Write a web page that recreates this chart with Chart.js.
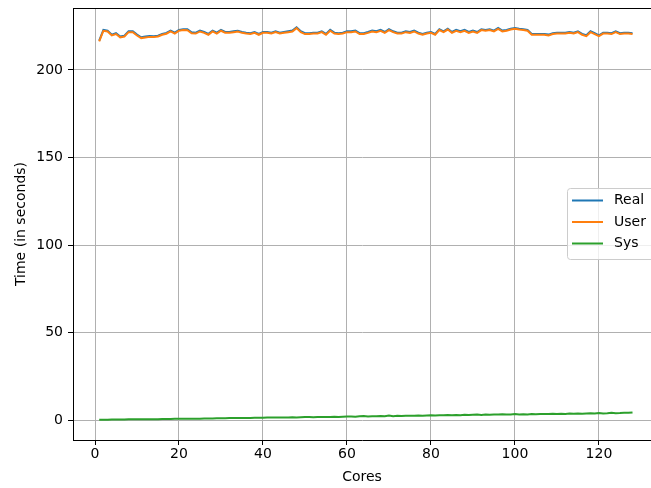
<!DOCTYPE html>
<html>
<head>
<meta charset="utf-8">
<script src="https://cdn.jsdelivr.net/npm/chart.js@4/dist/chart.umd.min.js"></script>
<style>
  html, body { margin: 0; padding: 0; background: #fff; }
  #wrap { width: 651px; height: 488px; }
</style>
</head>
<body>
<div id="wrap"><canvas id="myChart" width="651" height="488"></canvas></div>
<script>
// cores 1..128
var cores = [];
for (var i = 1; i <= 128; i++) cores.push(i);

var realTimes = [
  216.8, 222.9, 222.5, 220.2, 221.0, 219.1, 219.6, 222.1, 222.1, 220.2,
  218.7, 219.1, 219.4, 219.3, 219.6, 220.6, 221.2, 222.5, 221.3, 222.9,
  223.3, 223.2, 221.5, 221.3, 222.5, 221.7, 220.6, 222.5, 221.3, 222.9,
  221.7, 221.7, 222.1, 222.4, 221.7, 221.3, 221.0, 221.7, 220.6, 221.7,
  221.7, 221.3, 222.1, 221.3, 221.7, 222.1, 222.5, 224.4, 222.1, 221.0,
  221.0, 221.3, 221.3, 222.1, 220.6, 222.9, 221.3, 221.0, 221.3, 222.1,
  222.1, 222.5, 221.0, 221.0, 221.7, 222.5, 222.1, 222.9, 221.7, 223.3,
  222.1, 221.3, 221.3, 222.1, 221.7, 222.5, 221.3, 220.6, 221.3, 221.7,
  220.6, 223.3, 222.1, 223.6, 221.7, 222.9, 222.1, 222.9, 221.7, 222.5,
  221.7, 223.3, 222.9, 223.3, 222.5, 224.0, 222.5, 222.9, 223.6, 224.0,
  223.6, 223.3, 222.9, 220.6, 220.6, 220.6, 220.6, 220.2, 221.0, 221.3,
  221.3, 221.3, 221.7, 221.3, 222.1, 220.6, 219.8, 222.1, 221.0, 219.8,
  221.3, 221.3, 221.0, 222.1, 221.0, 221.3, 221.3, 221.0
];

var userTimes = [
  216.3, 222.4, 222.0, 219.7, 220.5, 218.6, 219.1, 221.6, 221.6, 219.7,
  218.2, 218.6, 218.9, 218.8, 219.1, 220.1, 220.7, 222.0, 220.8, 222.4,
  222.8, 222.7, 221.0, 220.8, 222.0, 221.2, 220.1, 222.0, 220.8, 222.4,
  221.2, 221.2, 221.6, 221.9, 221.2, 220.8, 220.5, 221.2, 220.1, 221.2,
  221.2, 220.8, 221.6, 220.8, 221.2, 221.6, 222.0, 223.9, 221.6, 220.5,
  220.5, 220.8, 220.8, 221.6, 220.1, 222.4, 220.8, 220.5, 220.8, 221.6,
  221.6, 222.0, 220.5, 220.5, 221.2, 222.0, 221.6, 222.4, 221.2, 222.8,
  221.6, 220.8, 220.8, 221.6, 221.2, 222.0, 220.8, 220.1, 220.8, 221.2,
  220.1, 222.8, 221.6, 223.1, 221.2, 222.4, 221.6, 222.4, 221.2, 222.0,
  221.2, 222.8, 222.4, 222.8, 222.0, 223.5, 222.0, 222.4, 223.1, 223.5,
  223.1, 222.8, 222.4, 220.1, 220.1, 220.1, 220.1, 219.7, 220.5, 220.8,
  220.8, 220.8, 221.2, 220.8, 221.6, 220.1, 219.3, 221.6, 220.5, 219.3,
  220.8, 220.8, 220.5, 221.6, 220.5, 220.8, 220.8, 220.5
];

var sysTimes = [
  0.2, 0.2, 0.2, 0.3, 0.3, 0.3, 0.3, 0.4, 0.4, 0.4,
  0.4, 0.5, 0.5, 0.5, 0.5, 0.6, 0.6, 0.6, 0.7, 0.7,
  0.7, 0.7, 0.8, 0.8, 0.8, 0.9, 0.9, 0.9, 1.0, 1.0,
  1.0, 1.1, 1.1, 1.1, 1.2, 1.2, 1.2, 1.3, 1.3, 1.3,
  1.5, 1.4, 1.4, 1.4, 1.5, 1.5, 1.6, 1.5, 1.6, 1.7,
  1.7, 1.6, 1.7, 1.8, 1.7, 1.8, 1.9, 1.8, 1.9, 2.0,
  2.0, 1.9, 2.1, 2.3, 2.0, 2.2, 2.1, 2.3, 2.2, 2.6,
  2.2, 2.4, 2.3, 2.5, 2.4, 2.4, 2.6, 2.5, 2.6, 2.7,
  2.6, 2.8, 2.7, 2.9, 2.7, 2.9, 2.8, 3.0, 2.9, 3.0,
  3.1, 2.9, 3.1, 3.0, 3.2, 3.1, 3.3, 3.1, 3.2, 3.4,
  3.2, 3.3, 3.2, 3.4, 3.3, 3.5, 3.4, 3.5, 3.6, 3.4,
  3.6, 3.5, 3.7, 3.6, 3.8, 3.6, 3.8, 3.9, 3.7, 4.0,
  3.8, 3.9, 4.1, 3.9, 4.0, 4.2, 4.1, 4.3
];

var xTicks = [0, 20, 40, 60, 80, 100, 120];
var yTicks = [0, 50, 100, 150, 200];

function points(ys) {
  return cores.map(function (c, i) { return {x: c, y: ys[i]}; });
}

var font = {family: 'DejaVu Sans', size: 14};

// matplotlib style legend box + top spine
var mplLegend = {
  id: 'mplLegend',
  afterDraw: function (chart) {
    var c = chart.ctx, a = chart.chartArea;
    c.save();
    c.strokeStyle = '#000';
    c.lineWidth = 1;
    c.beginPath();
    c.moveTo(a.left, a.top + 0.5);
    c.lineTo(a.right, a.top + 0.5);
    c.stroke();

    var x0 = 567.5, y0 = 188.5, w = 100, h = 71, r = 3;
    c.fillStyle = 'rgba(255,255,255,0.8)';
    c.strokeStyle = '#cccccc';
    c.beginPath();
    c.roundRect(x0, y0, w, h, r);
    c.fill();
    c.stroke();
    c.font = '14px "DejaVu Sans"';
    c.textBaseline = 'middle';
    c.fillStyle = '#000';
    chart.data.datasets.forEach(function (ds, i) {
      var y = 200.5 + i * 21.5;
      c.strokeStyle = ds.borderColor;
      c.lineWidth = 2;
      c.beginPath();
      c.moveTo(572, y);
      c.lineTo(603, y);
      c.stroke();
      c.fillText(ds.label, 614, y);
    });
    c.restore();
  }
};

var ctx = document.getElementById('myChart').getContext('2d');
var myChart = new Chart(ctx, {
  type: 'line',
  data: {
    datasets: [{
      data: points(realTimes),
      label: 'Real',
      borderColor: '#1f77b4',
      borderWidth: 2,
      pointRadius: 0,
      order: 3
    }, {
      data: points(userTimes),
      label: 'User',
      borderColor: '#ff7f0e',
      borderWidth: 2,
      pointRadius: 0,
      order: 2
    }, {
      data: points(sysTimes),
      label: 'Sys',
      borderColor: '#2ca02c',
      borderWidth: 2,
      pointRadius: 0,
      order: 1
    }]
  },
  options: {
    responsive: false,
    animation: false,
    devicePixelRatio: 1,
    layout: {padding: {top: 8, right: 0, left: 0, bottom: 0}},
    plugins: {
      legend: {display: false},
      tooltip: {enabled: false}
    },
    scales: {
      x: {
        type: 'linear',
        min: -5.24,
        max: 132.4,
        afterFit: function (s) { s.height = 48; s.paddingLeft = 0; s.paddingRight = 0; },
        afterBuildTicks: function (s) { s.ticks = xTicks.map(function (v) { return {value: v}; }); },
        grid: {color: '#b0b0b0', lineWidth: 1, tickColor: '#000', tickLength: 5},
        border: {display: true, color: '#000', width: 1},
        ticks: {color: '#000', font: font, padding: 1, maxRotation: 0},
        title: {display: true, text: 'Cores', color: '#000', font: font, padding: {top: 0, bottom: 2}}
      },
      y: {
        min: -11.4,
        max: 235.4,
        afterFit: function (s) { s.width = 73; s.paddingTop = 0; s.paddingBottom = 0; },
        afterBuildTicks: function (s) { s.ticks = yTicks.map(function (v) { return {value: v}; }); },
        grid: {color: '#b0b0b0', lineWidth: 1, tickColor: '#000', tickLength: 5},
        border: {display: true, color: '#000', width: 1},
        ticks: {color: '#000', font: font, padding: 5},
        title: {display: true, text: 'Time (in seconds)', color: '#000', font: font, padding: {top: 13, bottom: 0}}
      }
    }
  },
  plugins: [mplLegend]
});
</script>
</body>
</html>
